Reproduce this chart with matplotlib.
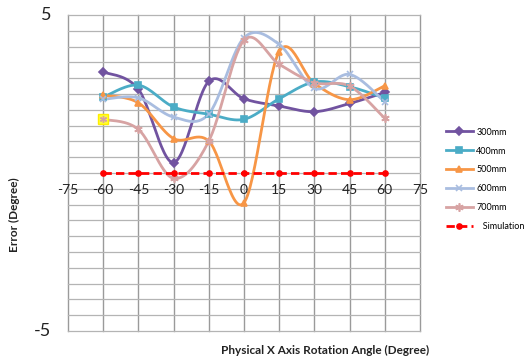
import numpy as np
import matplotlib
matplotlib.use("Agg")
import matplotlib.pyplot as plt
from matplotlib.lines import Line2D

plt.rcParams['font.family'] = ['Lato', 'DejaVu Sans']

angles = [-60, -45, -30, -15, 0, 15, 30, 45, 60]
err_300 = [3.20, 2.65, 0.33, 2.90, 2.35, 2.12, 1.94, 2.20, 2.55]
err_400 = [2.40, 2.78, 2.09, 1.86, 1.70, 2.35, 2.88, 2.73, 2.37]
err_500 = [2.46, 2.22, 1.09, 1.01, -0.94, 3.84, 2.83, 2.32, 2.76]
err_600 = [2.33, 2.38, 1.77, 1.87, 4.28, 4.07, 2.68, 3.12, 2.25]
err_700 = [1.70, 1.38, -0.17, 1.01, 4.20, 3.44, 2.86, 2.75, 1.73]
err_sim = [0, 0, 0, 0, 0, 0, 0, 0, 0]
series_names = ["300mm", "400mm", "500mm", "600mm", "700mm", "   Simulation"]
x_ticks = [-75, -60, -45, -30, -15, 0, 15, 30, 45, 60, 75]


def smooth(xs, ys, n=30):
    """Piecewise cubic Bezier smoothing through every point (spreadsheet-style)."""
    xs = np.asarray(xs, float)
    ys = np.asarray(ys, float)
    px = np.concatenate([[xs[0]], xs, [xs[-1]]])
    py = np.concatenate([[ys[0]], ys, [ys[-1]]])
    out_x, out_y = [], []
    t = np.linspace(0, 1, n)
    for i in range(1, len(px) - 2):
        p0 = np.array([px[i], py[i]])
        p3 = np.array([px[i + 1], py[i + 1]])
        c1 = p0 + (np.array([px[i + 1], py[i + 1]]) - np.array([px[i - 1], py[i - 1]])) / 6
        c2 = p3 - (np.array([px[i + 2], py[i + 2]]) - np.array([px[i], py[i]])) / 6
        b = ((1 - t) ** 3)[:, None] * p0 + (3 * (1 - t) ** 2 * t)[:, None] * c1 \
            + (3 * (1 - t) * t ** 2)[:, None] * c2 + (t ** 3)[:, None] * p3
        out_x.extend(b[:, 0])
        out_y.extend(b[:, 1])
    return np.array(out_x), np.array(out_y)


fig = plt.figure(figsize=(5.26, 3.61), dpi=100)
ax = fig.add_axes([68 / 526, 30 / 361, 352 / 526, 316 / 361])
ax.set_xlim(-75, 75)
ax.set_ylim(-5, 5)

# grid
for gx in x_ticks:
    ax.axvline(gx, color="#9a9a9a", lw=1.0, zorder=0, clip_on=False)
for gy in np.arange(-5, 5.01, 0.5):
    ax.axhline(gy, color="#b4b4b4", lw=0.9, zorder=0, clip_on=False)
for s in ax.spines.values():
    s.set_visible(False)

styles = [
    (err_300, "#7153A0", "D", 3.8, 2.0),
    (err_400, "#4BACC6", "s", 5.0, 2.0),
    (err_500, "#F79646", "^", 5.0, 2.0),
    (err_600, "#A9BDE0", "x", 5.0, 2.0),
    (err_700, "#D7A3A3", (6, 2, 0), 6.0, 2.0),
]
handles = []
for (vals, col, mk, ms, lw), name in zip(styles, series_names):
    sx, sy = smooth(angles, vals)
    ax.plot(sx, sy, color=col, lw=lw, zorder=3, solid_capstyle="round")
    ax.plot(angles, vals, ls="none", marker=mk, ms=ms, color=col,
            mec=col, mew=1.2, zorder=4)
    handles.append(Line2D([], [], color=col, lw=lw, marker=mk, ms=ms, mec=col, mew=1.2))

# highlighted first 700mm point
ax.plot(angles[0], err_700[0], marker="s", ms=7, color="#FFFF33", mec="#FFEE00", zorder=5)
ax.plot(angles[0], err_700[0], marker=(6, 2, 0), ms=5, color="#D7A3A3", mew=1.0, zorder=6)

ax.plot(angles, err_sim, color="#FF0000", ls=(0, (3, 1.5)), lw=2.0, marker="o", ms=3.8,
        zorder=5)
handles.append(Line2D([], [], color="#FF0000", ls=(0, (3, 1.5)), lw=2.0, marker="o", ms=3.8))

# x tick labels sit along the zero line
ax.set_xticks([])
ax.set_yticks([])
for xv in x_ticks:
    ax.text(xv, -0.35, str(xv), ha="center", va="top", fontsize=10, color="#222222")
ax.text(-82, 5, "5", ha="right", va="center", fontsize=13, color="#222222")
ax.text(-82, -5, "-5", ha="right", va="center", fontsize=13, color="#222222")

fig.text(14 / 526, 1 - 215 / 361, "Error (Degree)", rotation=90, ha="center", va="center",
         fontsize=8.5, fontweight="bold", color="#222222")
fig.text(325 / 526, 1 - 350 / 361, "Physical X Axis Rotation Angle (Degree)", ha="center",
         va="center", fontsize=8.5, fontweight="bold", color="#222222")

leg = fig.legend(handles, series_names, loc="upper left",
                 bbox_to_anchor=(442 / 526, 1 - 124 / 361),
                 frameon=False, fontsize=6.5, handlelength=3.0, handletextpad=0.4,
                 labelspacing=1.1, borderaxespad=0)

fig.savefig("out.png", dpi=100)
